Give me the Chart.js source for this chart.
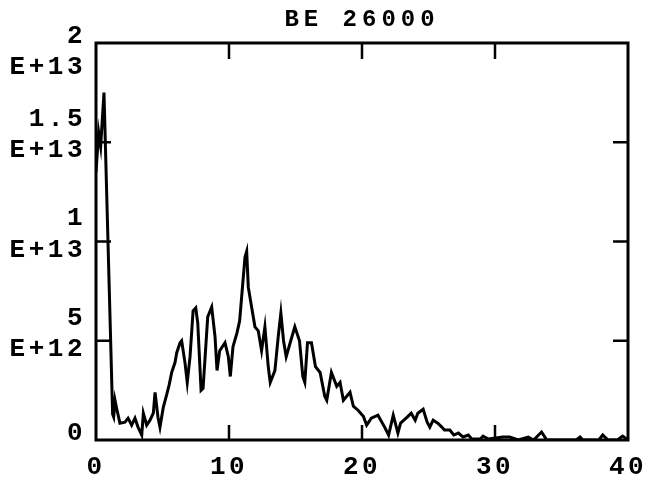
<!DOCTYPE html>
<html><head><meta charset="utf-8">
<script src="https://cdn.jsdelivr.net/npm/chart.js@4"></script>
<style>html,body{margin:0;padding:0;background:#fff}#wrap{width:650px;height:482px}</style>
</head><body><div id="wrap"><canvas id="c" width="650" height="482"></canvas></div>
<script>
const titleText = "BE 26000";
// x values (abscissa) and y values in units of 1E+12
const xValues = [
  0, 0.2, 0.35, 0.6, 1.25, 1.33, 1.43, 1.55, 1.8, 2.18,
  2.41, 2.68, 2.93, 3.16, 3.44, 3.56, 3.81, 4.06, 4.31, 4.44,
  4.66, 4.81, 5.06, 5.32, 5.51, 5.69, 5.94, 6.07, 6.32, 6.44,
  6.69, 6.86, 7.07, 7.3, 7.5, 7.65, 7.9, 8.05, 8.4, 8.7,
  8.95, 9.1, 9.3, 9.7, 9.95, 10.1, 10.3, 10.6, 10.8, 11.0,
  11.2, 11.33, 11.45, 11.7, 11.95, 12.2, 12.45, 12.7, 12.95, 13.1,
  13.45, 13.7, 13.9, 14.1, 14.3, 14.6, 14.95, 15.3, 15.55, 15.7,
  15.9, 16.2, 16.5, 16.85, 17.2, 17.35, 17.7, 18.1, 18.35, 18.6,
  19.1, 19.35, 19.7, 20.1, 20.35, 20.7, 21.2, 21.7, 22.0, 22.35,
  22.7, 22.9, 23.4, 23.7, 24.0, 24.2, 24.6, 24.9, 25.1, 25.35,
  25.7, 26.0, 26.2, 26.6, 26.9, 27.25, 27.6, 28.0, 28.25, 28.9,
  29.1, 29.5, 30.6, 31.1, 31.75, 32.5, 32.9, 33.5, 33.9, 36.1,
  36.4, 36.6, 37.8, 38.1, 38.5, 39.2, 39.6, 40
];
const yValues = [
  13.5, 15.5, 14.8, 17.5, 1.3, 1.16, 2.0, 1.6, 0.85, 0.9,
  1.1, 0.75, 1.1, 0.65, 0.25, 1.35, 0.75, 1.0, 1.35, 2.4,
  1.15, 0.65, 1.65, 2.3, 2.8, 3.4, 3.9, 4.4, 4.9, 5.0,
  3.9, 2.9, 4.2, 6.5, 6.65, 5.9, 2.5, 2.6, 6.2, 6.7,
  5.2, 3.5, 4.5, 4.9, 4.2, 3.2, 4.7, 5.4, 6.0, 7.6,
  9.2, 9.5, 7.7, 6.7, 5.7, 5.5, 4.5, 5.7, 3.7, 2.9,
  3.5, 5.2, 6.4, 5.0, 4.2, 4.9, 5.7, 5.0, 3.2, 2.9,
  4.9, 4.9, 3.7, 3.4, 2.2, 2.0, 3.4, 2.7, 2.9, 2.0,
  2.4, 1.7, 1.5, 1.2, 0.75, 1.1, 1.25, 0.65, 0.25, 1.25,
  0.35, 0.85, 1.15, 1.35, 1.0, 1.35, 1.55, 0.9, 0.65, 1.0,
  0.85, 0.65, 0.5, 0.5, 0.25, 0.35, 0.15, 0.25, 0.05, 0.05,
  0.2, 0.05, 0.15, 0.15, 0, 0.15, 0, 0.4, 0, 0,
  0.15, 0, 0, 0.25, 0, 0, 0.2, 0
];
const xTicks = [0, 10, 20, 30, 40];
const xTickLabels = ["0", "10", "20", "30", "40"];
const yTicks = [0, 5, 10, 15, 20];
const yTickLabels = [["0"], ["5", "E+12"], ["1", "E+13"], ["1.5", "E+13"], ["2", "E+13"]];

const FONT = "'Liberation Mono','Courier New',monospace";

const framePlugin = {
  id: 'frame',
  beforeDraw(chart) {
    chart.ctx.letterSpacing = '3.5px';
    const tb = chart.titleBlock;
    if (tb && !tb._patched) {
      const orig = tb.draw.bind(tb);
      tb.draw = function (a) {
        const c = chart.ctx; const prev = c.letterSpacing;
        c.letterSpacing = '5px'; orig(a); c.letterSpacing = prev;
      };
      tb._patched = true;
    }
  },
  afterDraw(chart) {
    const { ctx, chartArea: a, scales: { x, y } } = chart;
    ctx.save();
    ctx.strokeStyle = '#000';
    ctx.lineWidth = 3;
    ctx.strokeRect(a.left, a.top, a.right - a.left, a.bottom - a.top);
    ctx.lineWidth = 2.5;
    ctx.beginPath();
    xTicks.forEach(v => {
      if (v === x.min || v === x.max) return;
      const px = x.getPixelForValue(v);
      ctx.moveTo(px, a.bottom); ctx.lineTo(px, a.bottom - 15);
      ctx.moveTo(px, a.top); ctx.lineTo(px, a.top + 16);
    });
    yTicks.forEach(v => {
      if (v === y.min || v === y.max) return;
      const py = y.getPixelForValue(v);
      ctx.moveTo(a.left, py); ctx.lineTo(a.left + 15, py);
      ctx.moveTo(a.right, py); ctx.lineTo(a.right - 15, py);
    });
    ctx.stroke();
    ctx.restore();
  }
};

const tickFont = { family: FONT, size: 26, weight: 'bold', lineHeight: 1.2 };

new Chart(document.getElementById('c'), {
  type: 'line',
  data: {
    datasets: [{
      data: xValues.map((x, i) => ({ x: x, y: yValues[i] })),
      borderColor: '#000',
      borderWidth: 3,
      pointRadius: 0,
      tension: 0,
      fill: false
    }]
  },
  options: {
    responsive: false,
    animation: false,
    devicePixelRatio: 1,
    layout: { padding: { left: 0, right: 22, top: 0, bottom: 0 } },
    plugins: {
      legend: { display: false },
      tooltip: { enabled: false },
      title: {
        display: true,
        text: titleText,
        fullSize: false,
        color: '#000',
        font: { family: FONT, size: 24, weight: 'bold', lineHeight: 1.2 },
        padding: { top: 6, bottom: 8.2 }
      }
    },
    scales: {
      x: {
        type: 'linear', min: 0, max: 40,
        afterBuildTicks: s => { s.ticks = xTicks.map(v => ({ value: v })); },
        ticks: {
          callback: v => xTickLabels[xTicks.indexOf(v)],
          font: tickFont, color: '#000', padding: 12, maxRotation: 0, autoSkip: false
        },
        grid: { display: false, drawTicks: false },
        border: { display: false },
        afterFit: s => { s.height = 42; s.paddingLeft = 0; s.paddingRight = 0; }
      },
      y: {
        type: 'linear', min: 0, max: 20,
        afterBuildTicks: s => { s.ticks = yTicks.map(v => ({ value: v })); },
        ticks: {
          callback: v => {
            const lab = yTickLabels[yTicks.indexOf(v)];
            return v === 20 ? [''].concat(lab) : lab;
          },
          font: tickFont, color: '#000', padding: 10, labelOffset: -7, autoSkip: false
        },
        grid: { display: false, drawTicks: false },
        border: { display: false },
        afterFit: s => { s.width = 96; s.paddingTop = 0; s.paddingBottom = 0; }
      }
    }
  },
  plugins: [framePlugin]
});
</script>
</body></html>
